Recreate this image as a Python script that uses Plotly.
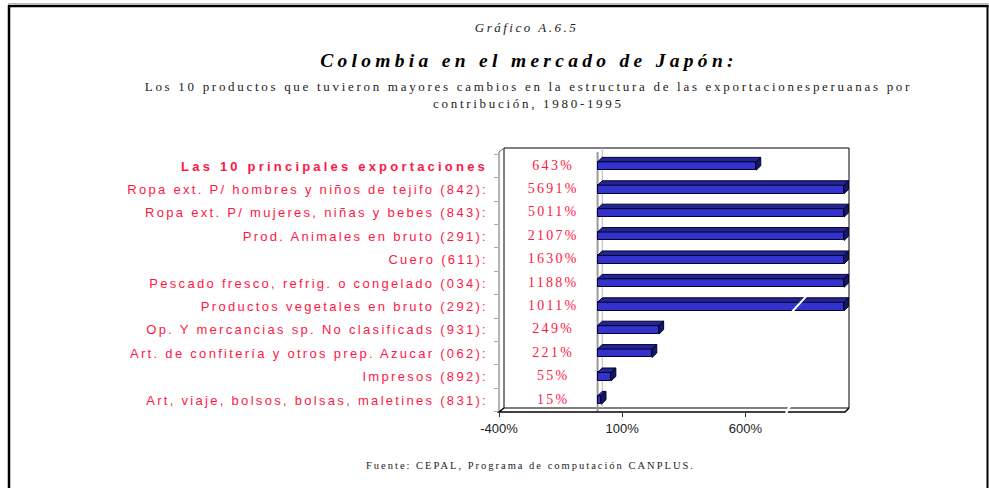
import plotly.graph_objects as go

# ---------------- data ----------------
categories = [
    "Las 10 principales exportaciones",
    "Ropa ext. P/ hombres y niños de tejifo (842):",
    "Ropa ext. P/ mujeres, niñas y bebes (843):",
    "Prod. Animales en bruto (291):",
    "Cuero (611):",
    "Pescado fresco, refrig. o congelado (034):",
    "Productos vegetales en bruto (292):",
    "Op. Y mercancias sp. No clasificads (931):",
    "Art. de confitería y otros prep. Azucar (062):",
    "Impresos (892):",
    "Art, viaje, bolsos, bolsas, maletines (831):",
]
values = [643, 5691, 5011, 2107, 1630, 1188, 1011, 249, 221, 55, 15]
x_tick_vals = [-400, 100, 600]
x_tick_text = ["-400%", "100%", "600%"]
axis_min, axis_max = -400, 1000

# ---------------- styling ----------------
W, H = 989, 488
RED = "#FF1744"
FRONT, TOP, SIDE, EDGE = "#3333CC", "#25258F", "#171760", "#000033"
DX = 19          # depth offset in x data units
DY = 0.19        # depth offset in row units
HALF = 0.18      # half thickness of front face
SANS = "Liberation Sans, Arial, sans-serif"
SERIF = "Liberation Serif, Times New Roman, serif"

rows = list(range(len(categories)))
shown = [min(v, axis_max) for v in values]

def px(x):
    return x / W

def py(y):
    return 1 - y / H

fig = go.Figure()

fig.add_trace(go.Bar(
    y=rows, x=shown, orientation="h", width=2 * HALF,
    marker=dict(color=FRONT, line=dict(color=EDGE, width=1)),
    hoverinfo="skip", showlegend=False,
))

top_x, top_y, side_x, side_y = [], [], [], []
for r, d in zip(rows, shown):
    t = r - HALF
    b = r + HALF
    top_x += [0, d, d + DX, DX, 0, None]
    top_y += [t, t, t - DY, t - DY, t, None]
    side_x += [d, d + DX, d + DX, d, d, None]
    side_y += [t, t - DY, b - DY, b, t, None]

fig.add_trace(go.Scatter(x=top_x, y=top_y, mode="lines", fill="toself",
                         fillcolor=TOP, line=dict(color=EDGE, width=1),
                         hoverinfo="skip", showlegend=False))
fig.add_trace(go.Scatter(x=side_x, y=side_y, mode="lines", fill="toself",
                         fillcolor=SIDE, line=dict(color=EDGE, width=1),
                         hoverinfo="skip", showlegend=False))

# value labels in the left (white) panel
fig.add_trace(go.Scatter(
    x=[-180] * len(values), y=rows, mode="text",
    text=[f"{v}%" for v in values],
    textfont=dict(family=SERIF, size=14, color=RED),
    hoverinfo="skip", showlegend=False, cliponaxis=False,
))

ticktext = ["<b>" + categories[0] + "</b>"] + categories[1:]

x0p, x1p = 499, 849
y0p, y1p = 148, 412
fig.update_layout(
    width=W, height=H, autosize=False,
    margin=dict(l=0, r=0, t=0, b=0, pad=0, autoexpand=False),
    paper_bgcolor="white", plot_bgcolor="white",
    bargap=0,
    xaxis=dict(
        domain=[px(x0p), px(x1p)], automargin=False,
        range=[axis_min, axis_max + 20],
        tickvals=x_tick_vals, ticktext=x_tick_text,
        ticks="outside", ticklen=4, tickcolor="#333333",
        tickfont=dict(family=SANS, size=13, color="#222222"),
        showgrid=False, zeroline=False, showline=False,
    ),
    yaxis=dict(
        domain=[py(y1p), py(y0p)], automargin=False,
        range=[10.51, -0.77],
        tickvals=rows, ticktext=ticktext,
        ticks="", ticklabelstandoff=10,
        tickfont=dict(family=SANS, size=13, color=RED),
        minor=dict(tickmode="array", tickvals=[r - 0.5 for r in rows] + [len(rows) - 0.5],
                   ticks="outside", ticklen=4, tickcolor="#AAAAAA"),
        showgrid=False, zeroline=False, showline=False,
    ),
)

shapes = []
# outer frame
shapes.append(dict(type="line", xref="paper", yref="paper", x0=px(8), x1=px(989), y0=py(3.5), y1=py(3.5),
                   line=dict(color="#BBBBBB", width=1)))
shapes.append(dict(type="line", xref="paper", yref="paper", x0=px(8), x1=px(988.5), y0=py(6), y1=py(6),
                   line=dict(color="black", width=2.5)))
shapes.append(dict(type="line", xref="paper", yref="paper", x0=px(9), x1=px(9), y0=py(5), y1=py(488),
                   line=dict(color="black", width=2.5)))
shapes.append(dict(type="line", xref="paper", yref="paper", x0=px(987.5), x1=px(987.5), y0=py(5), y1=py(488),
                   line=dict(color="black", width=2)))
# back wall
shapes.append(dict(type="rect", xref="paper", yref="paper", x0=px(504), x1=px(849), y0=py(408), y1=py(148),
                   line=dict(color="black", width=1), layer="below"))
# zero plane lines
shapes.append(dict(type="line", xref="x", yref="paper", x0=0, x1=0, y0=py(412), y1=py(152),
                   line=dict(color="#999999", width=2), layer="below"))
shapes.append(dict(type="line", xref="x", yref="paper", x0=DX, x1=DX, y0=py(408), y1=py(148),
                   line=dict(color="#BBBBBB", width=1), layer="below"))
# left front edge
shapes.append(dict(type="path", xref="paper", yref="paper",
                   path=f"M {px(499)} {py(412)} L {px(499)} {py(152)} L {px(504)} {py(148)}",
                   line=dict(color="#666666", width=1)))
# floor front edge
shapes.append(dict(type="path", xref="paper", yref="paper",
                   path=f"M {px(504)} {py(408)} L {px(499)} {py(412)} L {px(845)} {py(412)} L {px(849)} {py(408)}",
                   line=dict(color="black", width=1.5)))
# break marks
shapes.append(dict(type="line", xref="x", yref="y", x0=787, x1=848, y0=6.25, y1=5.55,
                   line=dict(color="white", width=2)))
shapes.append(dict(type="line", xref="paper", yref="paper", x0=px(786), x1=px(790), y0=py(413), y1=py(406),
                   line=dict(color="white", width=2.5)))
fig.update_layout(shapes=shapes)

ann = []
common = dict(xref="paper", yref="paper", showarrow=False, xanchor="center", yanchor="middle")
ann.append(dict(text="<i>Gráfico A.6.5</i>", x=px(526), y=py(28),
                font=dict(family=SERIF, size=13, color="#222222"), **common))
ann.append(dict(text="<b><i>Colombia en el mercado de Japón:</i></b>", x=px(528.5), y=py(60),
                font=dict(family=SERIF, size=19.5, color="black"), **common))
ann.append(dict(text="Los 10 productos que tuvieron mayores cambios en la estructura de las exportacionesperuanas por<br>contribución, 1980-1995",
                x=px(528), y=py(94.5),
                font=dict(family=SERIF, size=13, color="#222222"), **common))
ann.append(dict(text="Fuente: CEPAL, Programa de computación CANPLUS.", x=px(530.5), y=py(465),
                font=dict(family=SERIF, size=10.5, color="#222222"), **common))
fig.update_layout(annotations=ann)

# wide letter spacing, as in the original typesetting; no page margin
css = (
    "body{margin:0;overflow:hidden}"
    ".ytick text{letter-spacing:2.3px}"
    ".ytick tspan[style*='bold']{letter-spacing:3.2px}"
    ".textpoint text{letter-spacing:2.3px}"
    ".annotation[data-index='0'] text{letter-spacing:2.5px}"
    ".annotation[data-index='1'] text{letter-spacing:4.3px}"
    ".annotation[data-index='2'] text{letter-spacing:2.7px}"
    ".annotation[data-index='3'] text{letter-spacing:2px}"
)
post = ("var s=document.createElement('style');s.textContent=\"" + css +
        "\";document.head.appendChild(s);")

fig.write_html("out.html", post_script=post,
               config={"responsive": False, "displayModeBar": False})
